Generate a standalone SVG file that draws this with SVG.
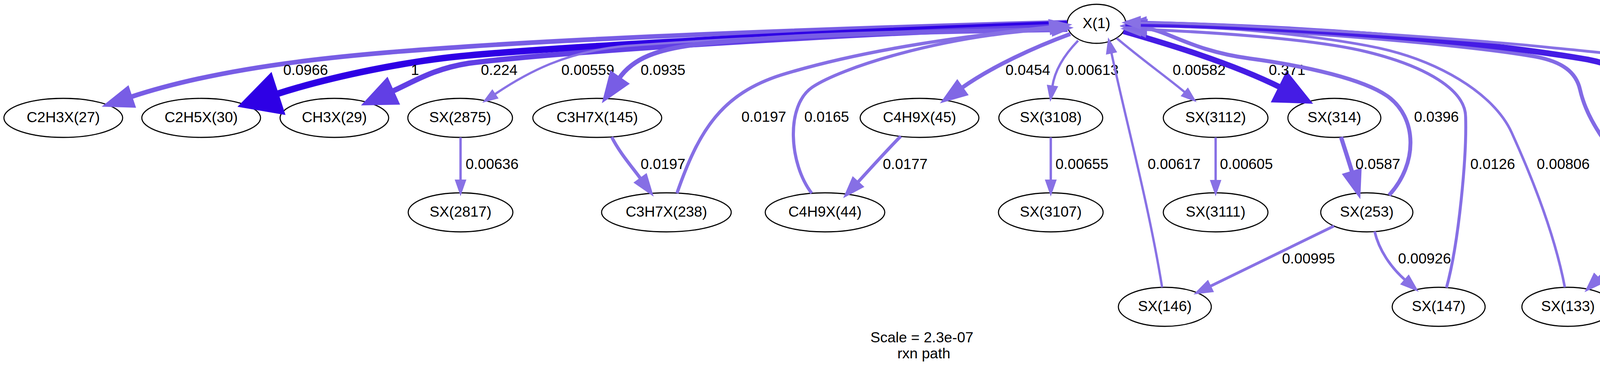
<svg xmlns="http://www.w3.org/2000/svg" width="4721" height="953" viewBox="0 0 4721 953">
<style>
text{font-family:"Liberation Sans",Arial,Helvetica,sans-serif;font-size:37.5px;fill:#000}
.node ellipse{fill:none;stroke:#000;stroke-width:2.8}
.node text{text-anchor:middle}
.e path{fill:none;stroke-linecap:butt}
.c1{stroke:#2e00e5}.c2{stroke:#451ce5}.c3{stroke:#613fe5}.c4{stroke:#785de5}
.c5{stroke:#8067e5}.c6{stroke:#826ae5}.c7{stroke:#866fe5}.c8{stroke:#8871e5}
</style>
<defs>
<marker id="a1" markerUnits="strokeWidth" orient="auto" overflow="visible" refX="0" refY="0" markerWidth="1" markerHeight="1"><path d="M0,-2.625L5,0L0,2.625Z" fill="#2e00e5" stroke="#2e00e5" stroke-width="1"/></marker>
<marker id="a2" markerUnits="strokeWidth" orient="auto" overflow="visible" refX="0" refY="0" markerWidth="1" markerHeight="1"><path d="M0,-2.3L5,0L0,2.3Z" fill="#451ce5" stroke="#451ce5" stroke-width="1"/></marker>
<marker id="a3" markerUnits="strokeWidth" orient="auto" overflow="visible" refX="0" refY="0" markerWidth="1" markerHeight="1"><path d="M0,-2.13L5,0L0,2.13Z" fill="#613fe5" stroke="#613fe5" stroke-width="1"/></marker>
<marker id="a4" markerUnits="strokeWidth" orient="auto" overflow="visible" refX="0" refY="0" markerWidth="1" markerHeight="1"><path d="M0,-1.85L5,0L0,1.85Z" fill="#785de5" stroke="#785de5" stroke-width="1"/></marker>
<marker id="a5" markerUnits="strokeWidth" orient="auto" overflow="visible" refX="0" refY="0" markerWidth="1" markerHeight="1"><path d="M0,-1.75L5,0L0,1.75Z" fill="#8067e5" stroke="#8067e5" stroke-width="1"/></marker>
<marker id="a6" markerUnits="strokeWidth" orient="auto" overflow="visible" refX="0" refY="0" markerWidth="1" markerHeight="1"><path d="M0,-1.75L5,0L0,1.75Z" fill="#826ae5" stroke="#826ae5" stroke-width="1"/></marker>
<marker id="a7" markerUnits="strokeWidth" orient="auto" overflow="visible" refX="0" refY="0" markerWidth="1" markerHeight="1"><path d="M0,-1.75L5,0L0,1.75Z" fill="#866fe5" stroke="#866fe5" stroke-width="1"/></marker>
<marker id="a8" markerUnits="strokeWidth" orient="auto" overflow="visible" refX="0" refY="0" markerWidth="1" markerHeight="1"><path d="M0,-1.75L5,0L0,1.75Z" fill="#8871e5" stroke="#8871e5" stroke-width="1"/></marker>
</defs>
<rect x="0" y="0" width="4721" height="953" fill="#fff"/>

<g id="nodes">
<g id="n-X1" class="node"><ellipse cx="2807" cy="61" rx="75" ry="50"/><text x="2807" y="72">X(1)</text></g>
<g id="n-C2H3X27" class="node"><ellipse cx="162" cy="302" rx="152" ry="50"/><text x="162" y="313">C2H3X(27)</text></g>
<g id="n-C2H5X30" class="node"><ellipse cx="515" cy="302" rx="152" ry="50"/><text x="515" y="313">C2H5X(30)</text></g>
<g id="n-CH3X29" class="node"><ellipse cx="856" cy="302" rx="139" ry="50"/><text x="856" y="313">CH3X(29)</text></g>
<g id="n-SX2875" class="node"><ellipse cx="1178" cy="302" rx="134" ry="50"/><text x="1178" y="313">SX(2875)</text></g>
<g id="n-C3H7X145" class="node"><ellipse cx="1529" cy="302" rx="165" ry="50"/><text x="1529" y="313">C3H7X(145)</text></g>
<g id="n-C4H9X45" class="node"><ellipse cx="2354" cy="302" rx="152" ry="50"/><text x="2354" y="313">C4H9X(45)</text></g>
<g id="n-SX3108" class="node"><ellipse cx="2690" cy="302" rx="133" ry="50"/><text x="2690" y="313">SX(3108)</text></g>
<g id="n-SX3112" class="node"><ellipse cx="3112" cy="302" rx="134" ry="50"/><text x="3112" y="313">SX(3112)</text></g>
<g id="n-SX314" class="node"><ellipse cx="3416" cy="302" rx="119" ry="50"/><text x="3416" y="313">SX(314)</text></g>
<g id="n-SX2807" class="node"><ellipse cx="4385" cy="302" rx="133" ry="50"/><text x="4385" y="313">SX(2807)</text></g>
<g id="n-SX2817" class="node"><ellipse cx="1179" cy="544" rx="134" ry="50"/><text x="1179" y="555">SX(2817)</text></g>
<g id="n-C3H7X238" class="node"><ellipse cx="1706" cy="544" rx="166" ry="50"/><text x="1706" y="555">C3H7X(238)</text></g>
<g id="n-C4H9X44" class="node"><ellipse cx="2112" cy="544" rx="153" ry="50"/><text x="2112" y="555">C4H9X(44)</text></g>
<g id="n-SX3107" class="node"><ellipse cx="2690" cy="544" rx="134" ry="50"/><text x="2690" y="555">SX(3107)</text></g>
<g id="n-SX3111" class="node"><ellipse cx="3112" cy="544" rx="134" ry="50"/><text x="3112" y="555">SX(3111)</text></g>
<g id="n-SX253" class="node"><ellipse cx="3499" cy="544" rx="118" ry="50"/><text x="3499" y="555">SX(253)</text></g>
<g id="n-SX362" class="node"><ellipse cx="4260" cy="544" rx="119" ry="50"/><text x="4260" y="555">SX(362)</text></g>
<g id="n-SX146" class="node"><ellipse cx="2982" cy="786" rx="119" ry="50"/><text x="2982" y="797">SX(146)</text></g>
<g id="n-SX147" class="node"><ellipse cx="3683" cy="786" rx="119" ry="50"/><text x="3683" y="797">SX(147)</text></g>
<g id="n-SX133" class="node"><ellipse cx="4014" cy="786" rx="118" ry="50"/><text x="4014" y="797">SX(133)</text></g>
<g id="n-SX332" class="node"><ellipse cx="4457" cy="786" rx="118" ry="50"/><text x="4457" y="797">SX(332)</text></g>
</g>

<g id="connectors">
<g class="e"><path class="c4" style="stroke-width:11.9" marker-end="url(#a4)" d="M2732,57 C2300,68 1600,92 1200,119 C950,136 600,160 333,249"/><text x="725" y="192">0.0966</text></g>
<g class="e"><path class="c1" style="stroke-width:16.8" marker-end="url(#a1)" d="M2732,62 C2200,80 1500,115 1200,142 C1050,155 850,195 705,242"/><text x="1052" y="192">1</text></g>
<g class="e"><path class="c3" style="stroke-width:13.6" marker-end="url(#a3)" d="M2732,67 C2200,85 1450,130 1200,162 C1110,176 1062,208 1002,235"/><text x="1231" y="192">0.224</text></g>
<g class="e"><path class="c8" style="stroke-width:5.8" marker-end="url(#a8)" d="M2733,72 C2300,80 1900,95 1600,118 C1450,132 1350,185 1266,242"/><text x="1437" y="192">0.00559</text></g>
<g class="e"><path class="c4" style="stroke-width:11.8" marker-end="url(#a4)" d="M2733,76 C2300,82 2000,90 1800,112 C1680,125 1620,150 1584,202"/><text x="1640" y="192">0.0935</text></g>
<g class="e"><path class="c7" style="stroke-width:8.5" marker-end="url(#a7)" d="M1733,495 C1790,330 1850,240 2000,192 C2250,115 2550,85 2690,69"/><text x="1898" y="312">0.0197</text></g>
<g class="e"><path class="c7" style="stroke-width:8.1" marker-end="url(#a7)" d="M2078,495 C2020,420 2010,270 2080,223 C2150,176 2400,92 2696,74"/><text x="2059" y="312">0.0165</text></g>
<g class="e"><path class="c5" style="stroke-width:10.3" marker-end="url(#a5)" d="M2740,87 C2650,120 2540,170 2461,226"/><text x="2574" y="192">0.0454</text></g>
<g class="e"><path class="c8" style="stroke-width:6" marker-end="url(#a8)" d="M2760,104 C2725,140 2700,180 2694,222"/><text x="2728" y="192">0.00613</text></g>
<g class="e"><path class="c8" style="stroke-width:6" marker-end="url(#a8)" d="M2975,736 C2940,520 2880,300 2845,134"/><text x="2938" y="433">0.00617</text></g>
<g class="e"><path class="c8" style="stroke-width:5.9" marker-end="url(#a8)" d="M2859,98 C2920,150 2990,200 3034,237"/><text x="3002" y="192">0.00582</text></g>
<g class="e"><path class="c2" style="stroke-width:14.7" marker-end="url(#a2)" d="M2876,80 C2980,110 3150,160 3280,225"/><text x="3248" y="192">0.371</text></g>
<g class="e"><path class="c6" style="stroke-width:10" marker-end="url(#a6)" d="M3556,500 C3630,420 3630,300 3550,245 C3490,204 3350,170 3200,150 C3050,130 2990,78 2931,72"/><text x="3620" y="312">0.0396</text></g>
<g class="e"><path class="c7" style="stroke-width:7.6" marker-end="url(#a7)" d="M3703,737 C3735,620 3755,400 3752,300 C3752,230 3650,170 3500,133 C3350,96 3050,80 2918,75"/><text x="3764" y="433">0.0126</text></g>
<g class="e"><path class="c8" style="stroke-width:6.6" marker-end="url(#a8)" d="M4006,736 C3980,600 3920,450 3870,340 C3825,240 3680,150 3500,117 C3300,80 3050,64 2915,64"/><text x="3934" y="433">0.00806</text></g>
<g class="e"><path class="c6" style="stroke-width:9.9" marker-end="url(#a6)" d="M4217,497 C4160,420 4070,340 4045,230 C4035,185 4000,158 3930,145 C3730,108 3100,62 2931,66"/><text x="4109" y="312">0.0391</text></g>
<g class="e"><path class="c2" style="stroke-width:14.8" marker-end="url(#a2)" d="M2881,60 C3300,68 3750,100 4050,150 C4130,162 4205,202 4249,224"/><text x="4224" y="192">0.386</text></g>
<g class="e"><path class="c8" style="stroke-width:7.1" marker-end="url(#a8)" d="M4499,739 C4540,620 4585,500 4585,400 C4588,320 4540,215 4480,190 C4420,165 4250,150 3900,115 C3600,88 3100,58 2917,58"/><text x="4594" y="433">0.0101</text></g>
<g class="e"><path class="c8" style="stroke-width:6.1" marker-end="url(#a8)" d="M1179,352 L1179,463"/><text x="1192" y="433">0.00636</text></g>
<g class="e"><path class="c7" style="stroke-width:8.5" marker-end="url(#a7)" d="M1566,351 C1585,390 1620,430 1641,459"/><text x="1640" y="433">0.0197</text></g>
<g class="e"><path class="c7" style="stroke-width:8.3" marker-end="url(#a7)" d="M2306,349 C2270,385 2230,430 2195,468"/><text x="2260" y="433">0.0177</text></g>
<g class="e"><path class="c8" style="stroke-width:6.2" marker-end="url(#a8)" d="M2690,352 L2690,463"/><text x="2702" y="433">0.00655</text></g>
<g class="e"><path class="c8" style="stroke-width:6" marker-end="url(#a8)" d="M3112,352 L3112,464"/><text x="3123" y="433">0.00605</text></g>
<g class="e"><path class="c5" style="stroke-width:10.8" marker-end="url(#a5)" d="M3433,351 C3442,380 3452,410 3462,443"/><text x="3470" y="433">0.0587</text></g>
<g class="e"><path class="c8" style="stroke-width:7.1" marker-end="url(#a8)" d="M3415,579 C3310,630 3200,684 3097,734"/><text x="3282" y="675">0.00995</text></g>
<g class="e"><path class="c8" style="stroke-width:6.9" marker-end="url(#a8)" d="M3519,593 C3530,640 3560,685 3598,718"/><text x="3579" y="675">0.00926</text></g>
<g class="e"><path class="c5" style="stroke-width:10.8" marker-end="url(#a5)" d="M4359,351 C4345,385 4325,420 4311,447"/><text x="4341" y="433">0.0597</text></g>
<g class="e"><path class="c7" style="stroke-width:7.5" marker-end="url(#a7)" d="M4213,590 C4172,632 4132,673 4091,714"/><text x="4161" y="675">0.0122</text></g>
<g class="e"><path class="c8" style="stroke-width:6.7" marker-end="url(#a8)" d="M4300,591 C4332,632 4364,672 4397,713"/><text x="4378" y="675">0.00841</text></g>
</g>

<g id="title">
<text x="2360" y="877" text-anchor="middle">Scale = 2.3e-07</text>
<text x="2365" y="918" text-anchor="middle">rxn path</text>
</g>
</svg>
